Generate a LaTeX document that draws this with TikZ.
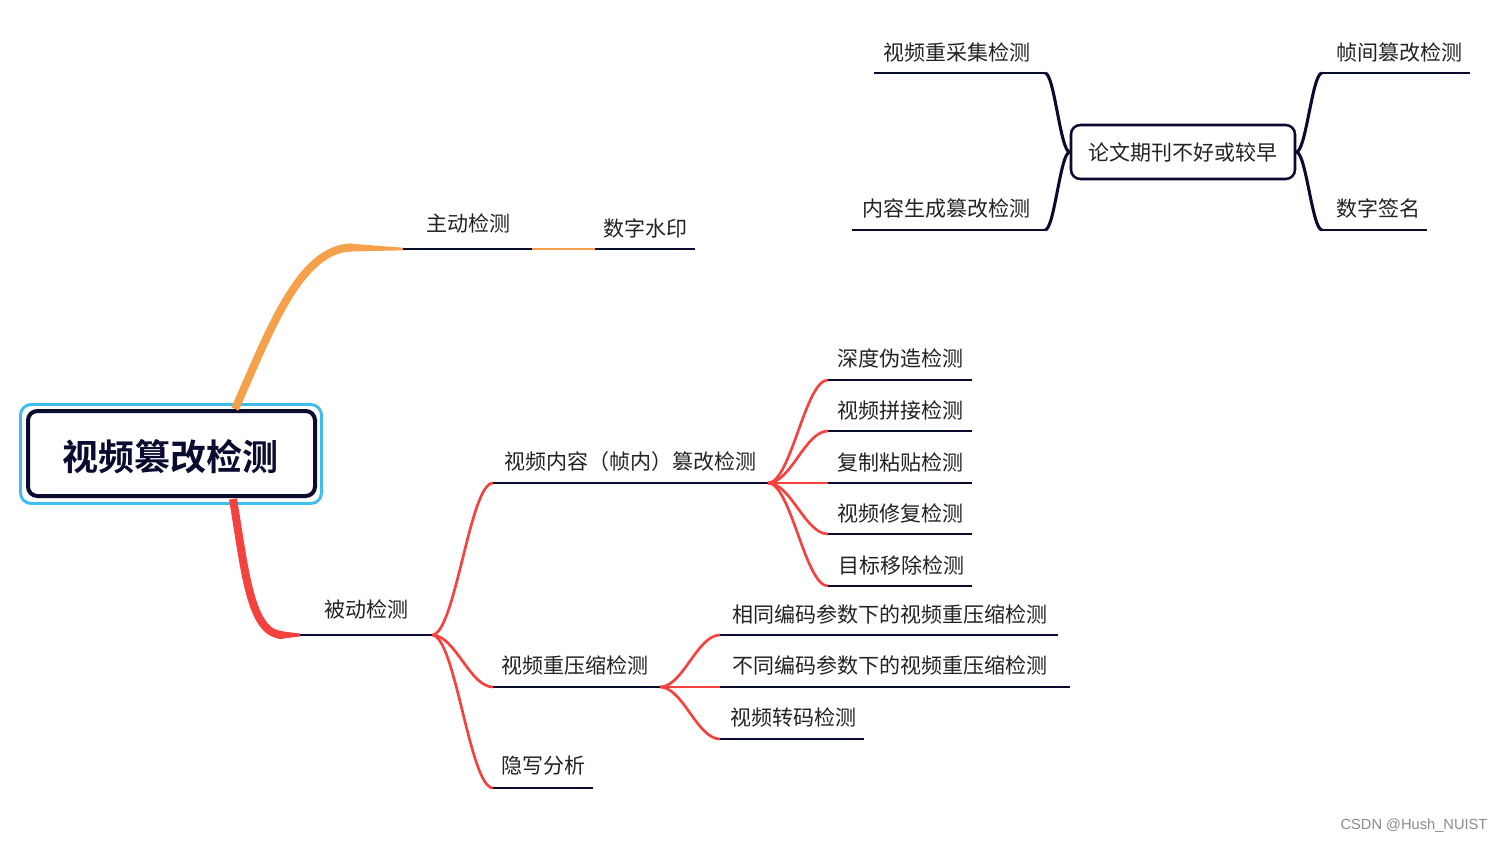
\documentclass[tikz,border=0pt]{standalone}
\usepackage{fontspec}
\setmainfont{Noto Sans CJK SC}
\newfontfamily\cjkbold{Noto Sans CJK SC Bold}
\newfontfamily\wmfont{Liberation Sans}
\usetikzlibrary{calc}
\definecolor{navy}{HTML}{0B0B30}
\definecolor{orng}{HTML}{F5A04A}
\definecolor{redb}{HTML}{F4433F}
\definecolor{skyb}{HTML}{3DBDF0}
\definecolor{txt}{HTML}{222222}
\begin{document}
\begin{tikzpicture}[x=0.75pt,y=-0.75pt,
  lbl/.style={inner sep=0pt, text=txt, font=\fontsize{15.75}{18}\selectfont},
  uline/.style={navy, line width=2pt},
  mm/.style={to path={let \p1=(\tikztostart), \p2=(\tikztotarget) in .. controls ({\x1+0.38*(\x2-\x1)},\y1) and ({\x2-0.38*(\x2-\x1)},\y2) .. (\tikztotarget)}},
  rb/.style={redb, line width=2pt},
  db/.style={navy, line width=2.3pt}]
\useasboundingbox[fill=white] (0,0) rectangle (1503,843);

% ---------- root ----------
\node[draw=navy, line width=3pt, rounded corners=7pt, minimum width=215.25pt, minimum height=63.75pt, inner sep=0pt] (root) at (171.5,453.5) {};
\node[inner sep=0pt, text=navy, font=\cjkbold\fontsize{27}{30}\selectfont] (title) at (170,457) {视频篡改检测};
\draw[skyb, line width=2.2pt, rounded corners=8pt] ($(root.north west)+(-5.5,-4.5)$) rectangle ($(root.south east)+(4.5,5.5)$);

% ---------- coordinates of underlines ----------
\coordinate (zdS) at (403,249); \coordinate (zdE) at (532,249);
\coordinate (szS) at (595,249); \coordinate (szE) at (695,249);
\coordinate (bdS) at (300,635); \coordinate (bdE) at (432,635);
\coordinate (nrS) at (493,483); \coordinate (nrE) at (768,483);
\coordinate (cyS) at (493,687); \coordinate (cyE) at (660,687);
\coordinate (yxS) at (493,788); \coordinate (yxE) at (593,788);
\coordinate (k1S) at (828,380); \coordinate (k1E) at (972,380);
\coordinate (k2S) at (828,431); \coordinate (k2E) at (972,431);
\coordinate (k3S) at (828,483); \coordinate (k3E) at (972,483);
\coordinate (k4S) at (828,534); \coordinate (k4E) at (972,534);
\coordinate (k5S) at (828,586); \coordinate (k5E) at (972,586);
\coordinate (c1S) at (720,635); \coordinate (c1E) at (1058,635);
\coordinate (c2S) at (720,687); \coordinate (c2E) at (1070,687);
\coordinate (c3S) at (720,739); \coordinate (c3E) at (864,739);
\coordinate (t1S) at (874,73);  \coordinate (t1E) at (1045,73);
\coordinate (t2S) at (852,230); \coordinate (t2E) at (1045,230);
\coordinate (t3S) at (1322,73); \coordinate (t3E) at (1470,73);
\coordinate (t4S) at (1322,230); \coordinate (t4E) at (1427,230);
\coordinate (rootT) at (235,409);
\coordinate (rootB) at (233,499);

% ---------- labels ----------
\node[lbl] (zd) at (468,223) {主动检测};
\node[lbl] (sz) at (645,228) {数字水印};
\node[lbl] (bd) at (366,609) {被动检测};
\node[lbl] (nr) at (630,462) {视频内容（帧内）篡改检测};
\node[lbl] (cy) at (575,665) {视频重压缩检测};
\node[lbl] (yx) at (543,766) {隐写分析};
\node[lbl] (k1) at (900,358) {深度伪造检测};
\node[lbl] (k2) at (900,410) {视频拼接检测};
\node[lbl] (k3) at (900,462) {复制粘贴检测};
\node[lbl] (k4) at (900,513) {视频修复检测};
\node[lbl] (k5) at (901,565) {目标移除检测};
\node[lbl] (c1) at (890,614) {相同编码参数下的视频重压缩检测};
\node[lbl] (c2) at (890,665) {不同编码参数下的视频重压缩检测};
\node[lbl] (c3) at (793,717) {视频转码检测};
\node[lbl] (t1) at (957,52) {视频重采集检测};
\node[lbl] (t2) at (946,208) {内容生成篡改检测};
\node[lbl] (t3) at (1399,52) {帧间篡改检测};
\node[lbl] (t4) at (1378,208) {数字签名};
\node[draw=navy, line width=1.9pt, rounded corners=7pt, minimum width=168pt, minimum height=40.5pt, inner sep=0pt, text=txt, font=\fontsize{15.75}{18}\selectfont] (lw) at (1183,152) {论文期刊不好或较早};
\node[inner sep=0pt, text=black!45, font=\wmfont\fontsize{11}{13}\selectfont] (wm) at (1414,826) {CSDN @Hush\_NUIST};

% ---------- main branches ----------
\draw[orng, line width=6pt] (rootT) .. controls (270,330) and (300,248) .. (352,247.5);
\fill[orng] (348,243.5) -- ($(zdS)+(0,-1.3)$) -- ($(zdS)+(0,1.3)$) -- (348,251.5) -- cycle;
\draw[redb, line width=6pt] (rootB) .. controls (245,570) and (250,635) .. (283,635);
\fill[redb] (279,631) -- ($(bdS)+(0,-1.5)$) -- ($(bdS)+(0,1.5)$) -- (279,639) -- cycle;
\draw[orng, line width=2.2pt] (zdE) -- (szS);

% ---------- underlines ----------
\foreach \n in {zd,sz,bd,nr,cy,yx,k1,k2,k3,k4,k5,c1,c2,c3,t1,t2,t3,t4}
  \draw[uline] (\n S) -- (\n E);

% ---------- red connectors ----------
\foreach \c in {nr,cy,yx} \draw[rb] (bdE) to[mm] (\c S);
\foreach \c in {k1,k2,k3,k4,k5} \draw[rb] (nrE) to[mm] (\c S);
\foreach \c in {c1,c2,c3} \draw[rb] (cyE) to[mm] (\c S);

% ---------- dark connectors ----------
\draw[db] (lw.west) to[mm] (t1E);
\draw[db] (lw.west) to[mm] (t2E);
\draw[db] (lw.east) to[mm] (t3S);
\draw[db] (lw.east) to[mm] (t4S);
\end{tikzpicture}
\end{document}
